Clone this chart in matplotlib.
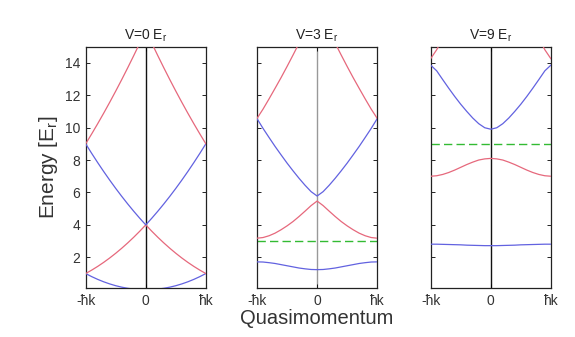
import matplotlib
matplotlib.use('Agg')
import matplotlib.pyplot as plt

plt.rcParams['font.family'] = ['Liberation Sans', 'DejaVu Sans']

# quasimomentum in units of hk
q = [-1.0, -0.9, -0.8, -0.7, -0.6, -0.5, -0.4, -0.3, -0.2, -0.1, 0.0,
     0.1, 0.2, 0.3, 0.4, 0.5, 0.6, 0.7, 0.8, 0.9, 1.0]

depths = [0, 3, 9]
titles = ['V=0 E$_\\mathregular{r}$', 'V=3 E$_\\mathregular{r}$', 'V=9 E$_\\mathregular{r}$']
xtick_labels = ['-ħk', '0', 'ħk']
ytick_values = [2, 4, 6, 8, 10, 12, 14]

# band energies [E_r]
v0_band1 = [1.0, 0.81, 0.64, 0.49, 0.36, 0.25, 0.16, 0.09, 0.04, 0.01, 0.0,
            0.01, 0.04, 0.09, 0.16, 0.25, 0.36, 0.49, 0.64, 0.81, 1.0]
v0_band2 = [1.0, 1.21, 1.44, 1.69, 1.96, 2.25, 2.56, 2.89, 3.24, 3.61, 4.0,
            3.61, 3.24, 2.89, 2.56, 2.25, 1.96, 1.69, 1.44, 1.21, 1.0]
v0_band3 = [9.0, 8.41, 7.84, 7.29, 6.76, 6.25, 5.76, 5.29, 4.84, 4.41, 4.0,
            4.41, 4.84, 5.29, 5.76, 6.25, 6.76, 7.29, 7.84, 8.41, 9.0]
v0_band4 = [9.0, 9.61, 10.24, 10.89, 11.56, 12.25, 12.96, 13.69, 14.44, 15.21, 16.0,
            15.21, 14.44, 13.69, 12.96, 12.25, 11.56, 10.89, 10.24, 9.61, 9.0]

v3_band1 = [1.72, 1.71, 1.67, 1.62, 1.55, 1.48, 1.41, 1.34, 1.29, 1.25, 1.24,
            1.25, 1.29, 1.34, 1.41, 1.48, 1.55, 1.62, 1.67, 1.71, 1.72]
v3_band2 = [3.18, 3.22, 3.33, 3.49, 3.70, 3.94, 4.21, 4.52, 4.85, 5.19, 5.47,
            5.19, 4.85, 4.52, 4.21, 3.94, 3.70, 3.49, 3.33, 3.22, 3.18]
v3_band3 = [10.55, 9.95, 9.39, 8.84, 8.32, 7.81, 7.33, 6.87, 6.44, 6.05, 5.78,
            6.05, 6.44, 6.87, 7.33, 7.81, 8.32, 8.84, 9.39, 9.95, 10.55]
v3_band4 = [10.57, 11.14, 11.77, 12.42, 13.08, 13.77, 14.48, 15.21, 15.96, 16.73, 17.55,
            16.73, 15.96, 15.21, 14.48, 13.77, 13.08, 12.42, 11.77, 11.14, 10.57]

v9_band1 = [2.81, 2.81, 2.80, 2.79, 2.78, 2.77, 2.75, 2.74, 2.73, 2.72, 2.72,
            2.72, 2.73, 2.74, 2.75, 2.77, 2.78, 2.79, 2.80, 2.81, 2.81]
v9_band2 = [7.00, 7.03, 7.11, 7.23, 7.38, 7.55, 7.72, 7.87, 8.00, 8.07, 8.10,
            8.07, 8.00, 7.87, 7.72, 7.55, 7.38, 7.23, 7.11, 7.03, 7.00]
v9_band3 = [13.85, 13.50, 12.96, 12.43, 11.92, 11.44, 11.00, 10.59, 10.24, 9.99, 9.90,
            9.99, 10.24, 10.59, 11.00, 11.44, 11.92, 12.43, 12.96, 13.50, 13.85]
v9_band4 = [14.25, 14.8, 15.5, 16.1, 16.7, 17.3, 17.8, 18.2, 18.5, 18.7, 18.8,
            18.7, 18.5, 18.2, 17.8, 17.3, 16.7, 16.1, 15.5, 14.8, 14.25]

bands = [
    [v0_band1, v0_band2, v0_band3, v0_band4],
    [v3_band1, v3_band2, v3_band3, v3_band4],
    [v9_band1, v9_band2, v9_band3, v9_band4],
]

blue = '#6262e0'
red = '#e6687c'
green = '#33bb33'
band_colors = [blue, red, blue, red]
center_colors = ['#111111', '#999999', '#111111']

fig = plt.figure(figsize=(5.75, 3.37), dpi=100)
lefts = [0.149, 0.447, 0.749]

for i in range(3):
    ax = fig.add_axes([lefts[i], 0.145, 0.209, 0.717])
    ax.axvline(0, color=center_colors[i], linewidth=1.0, zorder=1)
    ax.axhline(depths[i], color=green, linewidth=1.0, dashes=(6, 3), zorder=2)
    for band, col in zip(bands[i], band_colors):
        ax.plot(q, band, color=col, linewidth=0.9, zorder=3)

    ax.set_xlim(-1, 1)
    ax.set_ylim(0.1, 15)
    ax.set_xticks([-1, 0, 1])
    ax.set_xticklabels(xtick_labels, fontsize=10, color='#333333')
    ax.set_yticks(ytick_values)
    if i == 0:
        ax.set_yticklabels([str(v) for v in ytick_values], fontsize=10, color='#333333')
        ax.set_ylabel('Energy [E$_\\mathregular{r}$]', fontsize=15, color='#333333', labelpad=3)
    else:
        ax.set_yticklabels([])
    if i == 1:
        ax.set_xlabel('Quasimomentum', fontsize=14.5, color='#333333', labelpad=1)
    ax.set_title(titles[i], fontsize=10, color='#222222', pad=5)

    ax.tick_params(direction='in', length=3, width=0.6, right=True, top=True, pad=4)
    for s in ax.spines.values():
        s.set_linewidth(0.9)
        s.set_color('#222222')

plt.savefig('out.png', dpi=100)
